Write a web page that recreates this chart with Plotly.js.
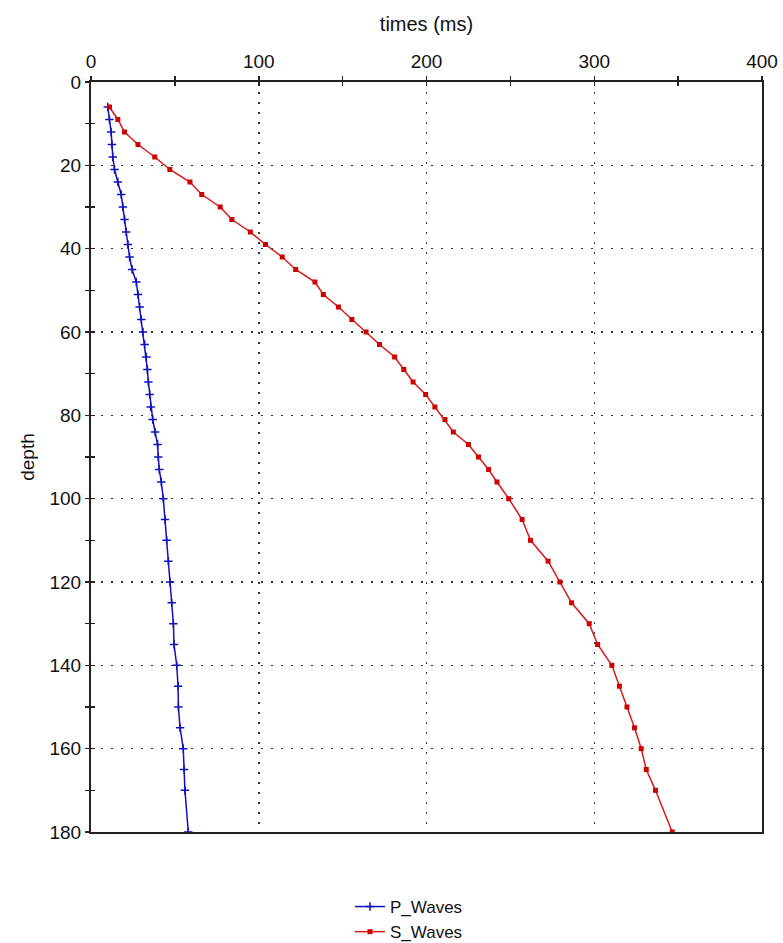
<!DOCTYPE html>
<html>
<head>
<meta charset="utf-8">
<script src="https://cdn.plot.ly/plotly-3.0.1.min.js"></script>
<style>html,body{margin:0;padding:0;background:#fff;}#chart{width:783px;height:943px;}</style>
</head>
<body>
<div id="chart"></div>
<script>
// P-wave travel times (ms) vs depth
const pDepth = [6,9,12,15,18,21,24,27,30,33,36,39,42,45,48,51,54,57,60,63,66,69,72,75,78,81,84,87,90,93,96,100,105,110,115,120,125,130,135,140,145,150,155,160,165,170,180];
const pTime  = [10,11,12,12.5,13,14,16,18,19,20,21,22,23,24.5,27,28,29,30,31,32,33,33.6,34.2,35,35.6,36.8,38.2,39.7,40.1,40.7,41.9,43.1,44.1,45.1,46.1,47.1,48.1,49.1,49.5,51.1,51.9,52.1,53.1,55,55.5,56,58];
// S-wave travel times (ms) vs depth
const sDepth = [6,9,12,15,18,21,24,27,30,33,36,39,42,45,48,51,54,57,60,63,66,69,72,75,78,81,84,87,90,93,96,100,105,110,115,120,125,130,135,140,145,150,155,160,165,170,180];
const sTime  = [11,16,20,28,38,47,59,66,77,84,95,104,114,122,133.5,138.5,147.5,155.5,164,172,181,186.5,192,199.5,205,211,216,225,231,237,242,249,257,262,272.5,279.5,286.5,297,302,310.5,315,319.5,324,328,331,336.5,346.5];
const xTickVals = [0,100,200,300,400];
const yTickVals = [0,20,40,60,80,100,120,140,160,180];

const FONT = 'Liberation Sans, Arial, sans-serif';

const traces = [
  {x: pTime, y: pDepth, name: 'P_Waves', type: 'scatter', mode: 'lines+markers',
   line: {color: '#1010c0', width: 1.5}, marker: {symbol: 'cross-thin', size: 6, color: '#1010c0', line: {color: '#1010c0', width: 1.5}}},
  {x: sTime, y: sDepth, name: 'S_Waves', type: 'scatter', mode: 'lines+markers',
   line: {color: '#d81818', width: 1.5}, marker: {symbol: 'square', size: 5, color: '#d00000'}},
  {x: [], y: [], xaxis: 'x2', yaxis: 'y2', showlegend: false, hoverinfo: 'skip'}
];

const layout = {
  width: 783, height: 943,
  margin: {l: 91, r: 21, t: 82, b: 111, autoexpand: false},
  paper_bgcolor: '#fff', plot_bgcolor: '#fff',
  font: {family: FONT, size: 16, color: '#000'},
  showlegend: true,
  legend: {x: 0.386, y: -0.076, xanchor: 'left', yanchor: 'top', orientation: 'v',
           font: {family: FONT, size: 17, color: '#111'}, tracegroupgap: 0, itemwidth: 30, bgcolor: 'rgba(0,0,0,0)'},
  xaxis: {
    side: 'top', range: [0, 400], tickvals: xTickVals, ticktext: xTickVals.map(String),
    ticks: 'outside', ticklen: 4, tickwidth: 1.5, tickcolor: '#222',
    minor: {dtick: 50, tick0: 0, ticks: 'outside', ticklen: 4, tickwidth: 1.5, tickcolor: '#222', showgrid: false},
    showgrid: true, gridcolor: '#333', gridwidth: 1.5, griddash: '1.5px,8.5px',
    showline: true, linecolor: '#222', linewidth: 2, mirror: true,
    zeroline: false, tickfont: {family: FONT, size: 19, color: '#111'}, ticklabelstandoff: 0,
    title: {text: 'times (ms)', font: {family: FONT, size: 20, color: '#111'}, standoff: 14}
  },
  yaxis: {
    range: [180, 0], tickvals: yTickVals, ticktext: yTickVals.map(String),
    ticks: 'outside', ticklen: 4, tickwidth: 1.5, tickcolor: '#222',
    minor: {dtick: 10, tick0: 0, ticks: 'outside', ticklen: 4, tickwidth: 1.5, tickcolor: '#222', showgrid: false},
    showgrid: true, gridcolor: '#333', gridwidth: 1.5, griddash: '1.5px,8.5px',
    showline: true, linecolor: '#222', linewidth: 2, mirror: true,
    zeroline: false, tickfont: {family: FONT, size: 19, color: '#111'}, ticklabelstandoff: 0,
    title: {text: 'depth', font: {family: FONT, size: 19, color: '#111'}, standoff: 10}
  },
  xaxis2: {overlaying: 'x', side: 'top', range: [0, 400], dtick: 50, tick0: 0, ticks: 'inside', ticklen: 4, tickwidth: 1.5, tickcolor: '#222',
           showticklabels: false, showgrid: false, zeroline: false, showline: false},
  yaxis2: {overlaying: 'y', side: 'left', range: [180, 0], dtick: 10, tick0: 0, ticks: 'inside', ticklen: 4, tickwidth: 1.5, tickcolor: '#222',
           showticklabels: false, showgrid: false, zeroline: false, showline: false}
};

Plotly.newPlot('chart', traces, layout, {displayModeBar: false, staticPlot: true});
</script>
</body>
</html>
